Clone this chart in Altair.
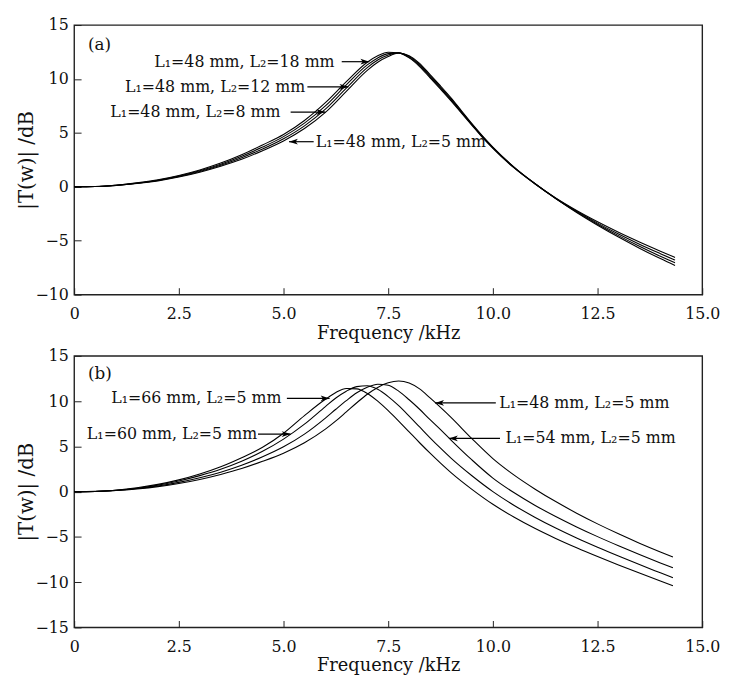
import altair as alt
import pandas as pd

# ---------------- Panel (a) data ----------------
freq_a = [0, 0.5, 1, 1.5, 2, 2.5, 3, 3.5, 4, 4.5, 5, 5.5, 6, 6.5, 7, 7.25, 7.5, 7.75,
          8, 8.25, 8.5, 8.75, 9, 9.25, 9.5, 9.75, 10, 10.5, 11, 11.5, 12, 12.5, 13,
          13.5, 14, 14.35]
a_L2_5 = [0, 0.02, 0.12, 0.3, 0.55, 0.9, 1.35, 1.9, 2.55, 3.35, 4.25, 5.4, 6.9, 8.85,
          10.8, 11.55, 12.08, 12.4, 12.15, 11.45, 10.4, 9.35, 8.25, 7.05, 5.85, 4.72, 3.68,
          1.85, 0.3, -1.1, -2.38, -3.56, -4.66, -5.69, -6.66, -7.3]
a_L2_8 = [0, 0.02, 0.13, 0.32, 0.58, 0.95, 1.42, 2.0, 2.7, 3.5, 4.45, 5.65, 7.2, 9.15,
          11.05, 11.75, 12.22, 12.42, 12.08, 11.35, 10.3, 9.25, 8.15, 6.97, 5.8, 4.67, 3.64,
          1.83, 0.32, -1.08, -2.33, -3.47, -4.53, -5.52, -6.45, -7.05]
a_L2_12 = [0, 0.02, 0.14, 0.34, 0.61, 1.0, 1.49, 2.1, 2.84, 3.68, 4.65, 5.9, 7.5, 9.45,
           11.3, 11.95, 12.35, 12.42, 12.0, 11.25, 10.2, 9.15, 8.05, 6.9, 5.75, 4.62, 3.6,
           1.8, 0.3, -1.06, -2.27, -3.37, -4.38, -5.32, -6.2, -6.8]
a_L2_18 = [0, 0.02, 0.15, 0.36, 0.65, 1.05, 1.56, 2.2, 2.97, 3.88, 4.85, 6.15, 7.8, 9.75,
           11.55, 12.15, 12.48, 12.4, 11.95, 11.15, 10.1, 9.05, 7.97, 6.83, 5.7, 4.58, 3.56,
           1.77, 0.28, -1.04, -2.2, -3.25, -4.22, -5.12, -5.97, -6.55]

ann_a_text = ["L₁=48 mm, L₂=18 mm", "L₁=48 mm, L₂=12 mm", "L₁=48 mm, L₂=8 mm", "L₁=48 mm, L₂=5 mm"]
ann_a_text_x = [6.22, 5.52, 4.93, 5.77]
ann_a_align = ["right", "right", "right", "left"]
ann_a_y = [11.6, 9.27, 6.93, 4.18]
ann_a_tail = [6.39, 5.57, 5.17, 5.72]
ann_a_tip = [7.05, 6.55, 6.0, 5.13]

# ---------------- Panel (b) data ----------------
freq_b = [0, 0.5, 1, 1.5, 2, 2.5, 3, 3.5, 4, 4.5, 5, 5.5, 6, 6.25, 6.5, 6.75, 7, 7.25,
          7.5, 7.75, 8, 8.25, 8.5, 8.75, 9, 9.5, 10, 10.5, 11, 11.5, 12, 12.5, 13, 13.5,
          14, 14.3]
b_L1_48 = [0, 0.02, 0.12, 0.3, 0.55, 0.9, 1.35, 1.9, 2.55, 3.35, 4.25, 5.4, 6.9, 7.81,
           8.81, 9.82, 10.76, 11.51, 12.02, 12.22, 12.0, 11.35, 10.35, 9.3, 8.2, 5.85, 3.65,
           1.85, 0.3, -1.1, -2.38, -3.56, -4.66, -5.69, -6.66, -7.22]
b_L1_54 = [0, 0.02, 0.14, 0.34, 0.62, 1.02, 1.53, 2.15, 2.92, 3.85, 4.95, 6.35, 8.12, 9.1,
           10.05, 10.92, 11.53, 11.87, 11.75, 11.1, 10.15, 9.1, 7.95, 6.85, 5.7, 3.5, 1.5,
           -0.1, -1.5, -2.75, -3.9, -4.97, -5.98, -6.95, -7.88, -8.42]
b_L1_60 = [0, 0.02, 0.15, 0.38, 0.72, 1.18, 1.77, 2.47, 3.35, 4.45, 5.8, 7.45, 9.4, 10.35,
           11.1, 11.6, 11.7, 11.3, 10.5, 9.5, 8.35, 7.15, 5.95, 4.8, 3.7, 1.75, 0.0, -1.5,
           -2.82, -4.02, -5.12, -6.14, -7.11, -8.05, -8.97, -9.52]
b_L1_66 = [0, 0.03, 0.16, 0.42, 0.8, 1.3, 1.95, 2.75, 3.75, 4.9, 6.45, 8.4, 10.2, 10.95,
           11.4, 11.35, 10.85, 10.0, 8.95, 7.8, 6.6, 5.4, 4.25, 3.15, 2.1, 0.25, -1.4,
           -2.8, -4.05, -5.17, -6.2, -7.17, -8.1, -9.0, -9.88, -10.4]

ann_b_text = ["L₁=66 mm, L₂=5 mm", "L₁=60 mm, L₂=5 mm", "L₁=48 mm, L₂=5 mm", "L₁=54 mm, L₂=5 mm"]
ann_b_text_x = [4.95, 4.37, 10.15, 10.3]
ann_b_align = ["right", "right", "left", "left"]
ann_b_y = [10.3, 6.36, 9.8, 5.88]
ann_b_tail = [5.08, 4.39, 10.07, 10.17]
ann_b_tip = [6.1, 5.17, 8.62, 8.95]

x_ticks = [0, 2.5, 5.0, 7.5, 10.0, 12.5, 15.0]

FONT = "DejaVu Serif"
HEAD_R = "M0,0 L-1,-0.32 L-0.75,0 L-1,0.32 Z"
HEAD_L = "M0,0 L1,-0.32 L0.75,0 L1,0.32 Z"


def curves_df(freq, series):
    rows = []
    for name, vals in series.items():
        for f, v in zip(freq, vals):
            rows.append({"f": f, "v": v, "s": name})
    return pd.DataFrame(rows)


def ann_df(text, tx, align, y, tail, tip):
    return pd.DataFrame({
        "text": text, "tx": tx, "align": align, "y": y, "tail": tail, "tip": tip,
        "head": [HEAD_R if b > a else HEAD_L for a, b in zip(tail, tip)],
    })


def panel(freq, series, ann, ymin, ymax, yticks, tag, tag_y, height):
    xs = alt.Scale(domain=[0, 15], nice=False, zero=False)
    ys = alt.Scale(domain=[ymin, ymax], nice=False, zero=False)
    xaxis = alt.Axis(values=x_ticks, title="Frequency /kHz", grid=False, domain=False,
                     offset=-7, tickSize=7, labelPadding=11, titlePadding=3,
                     labelExpr="datum.value == 0 ? '0' : format(datum.value, '.1f')",
                     labelFont=FONT, labelFontSize=16, titleFont=FONT, titleFontSize=18,
                     titleFontWeight="normal", labelColor="#111", titleColor="#111",
                     tickColor="#222", labelFlush=False)
    yaxis = alt.Axis(values=yticks, title="|T(w)| /dB", grid=False, domain=False,
                     offset=-7, tickSize=7, labelPadding=6, titlePadding=-2,
                     labelFont=FONT, labelFontSize=16, titleFont=FONT, titleFontSize=20,
                     titleFontWeight="normal", labelColor="#111", titleColor="#111",
                     tickColor="#222")
    cdf = curves_df(freq, series)
    lines = alt.Chart(cdf).mark_line(color="black", strokeWidth=1.1,
                                     interpolate="monotone").encode(
        x=alt.X("f:Q", scale=xs, axis=xaxis),
        y=alt.Y("v:Q", scale=ys, axis=yaxis),
        detail="s:N",
    )
    rules = alt.Chart(ann).mark_rule(color="black", strokeWidth=1.2).encode(
        x=alt.X("tail:Q", scale=xs), x2="tip:Q", y=alt.Y("y:Q", scale=ys))
    heads = alt.Chart(ann).mark_point(filled=True, color="black", opacity=1, size=324).encode(
        x=alt.X("tip:Q", scale=xs), y=alt.Y("y:Q", scale=ys),
        shape=alt.Shape("head:N", scale=None))
    tr = alt.Chart(ann).transform_filter("datum.align == 'right'").mark_text(
        align="right", baseline="middle", font=FONT, fontSize=16, color="#111").encode(
        x=alt.X("tx:Q", scale=xs), y=alt.Y("y:Q", scale=ys), text="text:N")
    tl = alt.Chart(ann).transform_filter("datum.align == 'left'").mark_text(
        align="left", baseline="middle", font=FONT, fontSize=16, color="#111").encode(
        x=alt.X("tx:Q", scale=xs), y=alt.Y("y:Q", scale=ys), text="text:N")
    tagdf = pd.DataFrame({"t": [tag], "x": [0.33], "y": [tag_y]})
    tg = alt.Chart(tagdf).mark_text(align="left", baseline="middle", font=FONT,
                                    fontSize=17, color="#111").encode(
        x=alt.X("x:Q", scale=xs), y=alt.Y("y:Q", scale=ys), text="t:N")
    return alt.layer(lines, rules, heads, tr, tl, tg).properties(
        width=636, height=height,
        view=alt.ViewBackground(stroke="#222", strokeWidth=1.4))


pa = panel(freq_a, {"5": a_L2_5, "8": a_L2_8, "12": a_L2_12, "18": a_L2_18},
           ann_df(ann_a_text, ann_a_text_x, ann_a_align, ann_a_y, ann_a_tail, ann_a_tip),
           -10, 15, [-10, -5, 0, 5, 10, 15], "(a)", 13.1, 273)
pb = panel(freq_b, {"48": b_L1_48, "54": b_L1_54, "60": b_L1_60, "66": b_L1_66},
           ann_df(ann_b_text, ann_b_text_x, ann_b_align, ann_b_y, ann_b_tail, ann_b_tip),
           -15, 15, [-15, -10, -5, 0, 5, 10, 15], "(b)", 13.0, 275)

chart = alt.vconcat(pa, pb, spacing=4).properties(
    padding={"left": 8, "top": 4, "right": 0, "bottom": 0},
    background="white",
).configure_view(stroke="#222", strokeWidth=1.4)

chart.save("out.html", embed_options={"renderer": "svg", "actions": False})
